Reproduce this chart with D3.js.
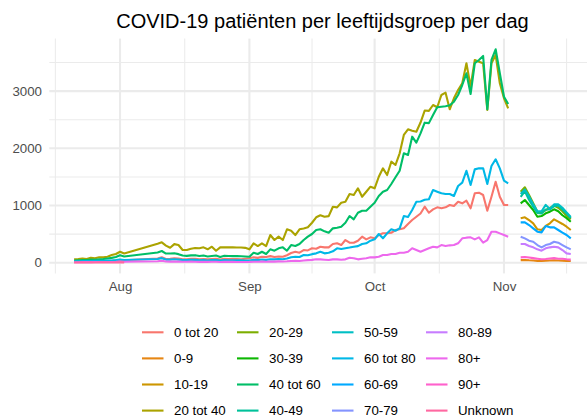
<!DOCTYPE html>
<html lang="nl">
<head>
<meta charset="utf-8">
<script src="https://d3js.org/d3.v7.min.js"></script>
<title>COVID-19 patiënten per leeftijdsgroep per dag</title>
<style>
  body { margin: 0; background: #fff; }
  svg text { font-family: "Liberation Sans", Arial, Helvetica, sans-serif; }
</style>
</head>
<body>
<div id="chart"></div>
<script>
// groups in legend / drawing order, with ggplot hue colours
const groups = ["0 tot 20", "0-9", "10-19", "20 tot 40", "20-29", "30-39", "40 tot 60", "40-49",
                "50-59", "60 tot 80", "60-69", "70-79", "80-89", "80+", "90+", "Unknown"];
const colors = ["#F8766D", "#E68613", "#CD9600", "#ABA300", "#7CAE00", "#0CB702", "#00BE67", "#00C19A",
                "#00BFC4", "#00B8E7", "#00A9FF", "#8494FF", "#C77CFF", "#ED68ED", "#FF61CC", "#FF68A1"];

// day ranges (end exclusive)
const early = [new Date(2020, 6, 21), new Date(2020, 7, 3)];   // 21 jul - 2 aug
const main = [new Date(2020, 7, 10), new Date(2020, 10, 3)];   // 10 aug - 2 nov
const late = [new Date(2020, 10, 5), new Date(2020, 10, 18)];  // 5 nov - 17 nov

// broad groups, 21 jul - 2 aug then 10 aug - 2 nov
const tot20 = [15, 15, 18, 20, 22, 20, 25, 28, 30, 35, 40, 45, 42,
  75, 94, 65, 70, 78, 72, 60, 62, 68, 70, 59, 65, 60, 66, 70, 55, 68, 66, 65, 64, 62, 70,
  77, 95, 85, 105, 100, 115, 100, 110, 105, 130, 170, 192, 175, 222, 215, 252, 245, 280, 269, 269,
  327, 339, 309, 397, 350, 350, 385, 455, 409, 444,
  427, 484, 514, 514, 524, 572, 584, 601, 677, 746, 804, 860, 979, 874, 933, 968, 951, 968, 1009, 991,
  1066, 1038, 1084, 951, 1213, 1224, 1184, 909, 1154, 1416, 1154,
  1009, 1009];
const tot40 = [60, 65, 75, 65, 87, 77, 94, 94, 105, 134, 152, 192, 163,
  330, 356, 300, 262, 325, 310, 222, 222, 245, 257, 252, 269, 235, 280, 210, 269, 268, 270, 268, 266, 266, 260,
  234, 339, 292, 339, 292, 484, 397, 455, 397, 584, 559, 484, 584, 600, 619, 699, 794, 830, 804, 814,
  979, 968, 1049, 1066, 1201, 1184, 1301, 1154, 1241, 1329,
  1301, 1503, 1650, 1533, 1766, 1708, 1913, 2233, 2332, 2308, 2290, 2450, 2660, 2655, 2757, 2717, 2932, 2972,
  2682, 2874, 3019, 3136, 3486, 3077, 3544, 3514, 3486, 2670, 3486, 3631, 3136,
  2874, 2699];
const tot60 = [40, 42, 45, 48, 55, 52, 60, 65, 75, 85, 100, 130, 110,
  180, 205, 160, 160, 165, 150, 125, 120, 128, 132, 117, 125, 110, 118, 125, 100, 120, 118, 115, 115, 112, 108,
  105, 175, 152, 192, 152, 234, 210, 252, 269, 210, 309, 292, 327, 397, 455, 502, 572, 585, 549, 524,
  601, 612, 629, 699, 816, 759, 874, 909, 909, 979,
  1049, 1166, 1241, 1271, 1376, 1493, 1608, 1913, 1883, 2203, 2098, 2262, 2448, 2440, 2582, 2717, 2727, 2735,
  2752, 2815, 2932, 3107, 3311, 2949, 3486, 3544, 3614, 2682, 3544, 3731, 3311,
  2903, 2774];
const tot80 = [25, 25, 28, 30, 30, 32, 35, 35, 38, 40, 45, 55, 48,
  65, 80, 55, 55, 60, 55, 48, 45, 50, 50, 42, 45, 40, 45, 48, 38, 45, 44, 43, 42, 42, 40,
  38, 50, 45, 55, 50, 62, 58, 65, 60, 75, 95, 105, 100, 135, 130, 150, 164, 192, 164, 175,
  200, 252, 240, 252, 265, 280, 290, 327, 340, 385,
  409, 502, 427, 514, 584, 559, 600, 816, 800, 921, 1066, 1070, 1100, 1110, 1271, 1242, 1213, 1201,
  1201, 1166, 1341, 1399, 1608, 1358, 1632, 1650, 1650, 1376, 1690, 1808, 1650,
  1434, 1388];
const plus80 = [8, 8, 10, 10, 10, 12, 12, 12, 14, 14, 15, 20, 18,
  25, 35, 22, 20, 22, 20, 18, 18, 20, 18, 15, 18, 15, 16, 18, 14, 16, 15, 15, 14, 14, 14,
  15, 18, 16, 20, 18, 22, 20, 24, 22, 25, 30, 32, 30, 40, 45, 50, 60, 59, 53, 47,
  59, 59, 53, 59, 87, 77, 59, 70, 77, 94,
  94, 105, 135, 135, 152, 152, 175, 175, 192, 252, 222, 192, 222, 252, 280, 269, 309, 292,
  304, 309, 339, 427, 438, 444, 409, 444, 350, 397, 542, 542, 513,
  484, 455];
// unknown, 21 jul - 2 aug only
const unknown = [5, 5, 6, 5, 6, 5, 6, 7, 6, 5, 6, 8, 6];

// ten-year groups, 5 nov - 17 nov
const age0_9 = [45, 48, 42, 38, 33, 30, 35, 40, 42, 38, 36, 32, 30];
const age10_19 = [776, 794, 746, 688, 584, 572, 642, 688, 759, 717, 677, 629, 572];
const age20_29 = [1240, 1318, 1184, 1038, 892, 874, 920, 960, 1000, 960, 900, 820, 760];
const age30_39 = [1038, 1096, 1009, 921, 804, 816, 864, 892, 934, 900, 830, 780, 717];
const age40_49 = [1150, 1250, 1100, 980, 870, 860, 930, 930, 990, 1000, 930, 860, 780];
const age50_59 = [1200, 1280, 1160, 1020, 900, 900, 1010, 940, 1020, 1020, 960, 880, 800];
const age60_69 = [706, 706, 659, 601, 543, 531, 642, 618, 618, 572, 525, 484, 426];
const age70_79 = [455, 426, 385, 367, 309, 269, 309, 327, 367, 350, 309, 269, 234];
const age80_89 = [327, 327, 292, 269, 234, 210, 252, 269, 280, 269, 222, 164, 152];
const age90p = [94, 100, 90, 80, 70, 60, 65, 75, 80, 70, 70, 60, 55];

const yTicks = [0, 1000, 2000, 3000];
const yMinor = [500, 1500, 2500, 3500];
const monthTicks = [new Date(2020, 7, 1), new Date(2020, 8, 1), new Date(2020, 9, 1), new Date(2020, 10, 1)];
const monthLabels = ["Aug", "Sep", "Oct", "Nov"];

const earlyDays = d3.timeDay.range(early[0], early[1]);
const mainDays = earlyDays.concat(d3.timeDay.range(main[0], main[1]));
const lateDays = d3.timeDay.range(late[0], late[1]);

const valuesByGroup = {
  "0 tot 20": [mainDays, tot20], "0-9": [lateDays, age0_9], "10-19": [lateDays, age10_19],
  "20 tot 40": [mainDays, tot40], "20-29": [lateDays, age20_29], "30-39": [lateDays, age30_39],
  "40 tot 60": [mainDays, tot60], "40-49": [lateDays, age40_49], "50-59": [lateDays, age50_59],
  "60 tot 80": [mainDays, tot80], "60-69": [lateDays, age60_69], "70-79": [lateDays, age70_79],
  "80-89": [lateDays, age80_89], "80+": [mainDays, plus80], "90+": [lateDays, age90p],
  "Unknown": [earlyDays, unknown]
};
const series = groups.map((g, i) => ({
  name: g,
  color: colors[i],
  points: valuesByGroup[g][0].map((d, j) => ({date: d, value: valuesByGroup[g][1][j]}))
}));

const width = 587, height = 420;
const panel = {left: 49.3, right: 595.6, top: 38.6, bottom: 273.4};

const svg = d3.select("#chart").append("svg")
  .attr("width", width)
  .attr("height", height);

// ggplot style 5% expansion on both scales
const allPts = series.flatMap(s => s.points);
const dExt = d3.extent(allPts, p => p.date);
const dPad = (dExt[1] - dExt[0]) * 0.05;
const x = d3.scaleTime()
  .domain([new Date(+dExt[0] - dPad), new Date(+dExt[1] + dPad)])
  .range([panel.left, panel.right]);
const vMax = d3.max(allPts, p => p.value);
const y = d3.scaleLinear()
  .domain([-vMax * 0.05, vMax * 1.05])
  .range([panel.bottom, panel.top]);

// grid
const minorX = monthTicks.map((d, i) => {
  const prev = i === 0 ? new Date(2020, 6, 1) : monthTicks[i - 1];
  return new Date((+prev + +d) / 2);
});
minorX.push(new Date((+monthTicks[3] + +new Date(2020, 11, 1)) / 2));

const grid = svg.append("g").attr("stroke", "#EBEBEB");
grid.selectAll(".ymin").data(yMinor).enter().append("line")
  .attr("x1", panel.left).attr("x2", panel.right)
  .attr("y1", d => y(d)).attr("y2", d => y(d))
  .attr("stroke-width", 1.05);
grid.selectAll(".xmin").data(minorX).enter().append("line")
  .attr("x1", d => x(d)).attr("x2", d => x(d))
  .attr("y1", panel.top).attr("y2", panel.bottom)
  .attr("stroke-width", 1.05);
grid.selectAll(".ymaj").data(yTicks).enter().append("line")
  .attr("x1", panel.left).attr("x2", panel.right)
  .attr("y1", d => y(d)).attr("y2", d => y(d))
  .attr("stroke-width", 2.1);
grid.selectAll(".xmaj").data(monthTicks).enter().append("line")
  .attr("x1", d => x(d)).attr("x2", d => x(d))
  .attr("y1", panel.top).attr("y2", panel.bottom)
  .attr("stroke-width", 2.1);

// axes
const xAxis = svg.append("g")
  .attr("transform", `translate(0,${panel.bottom})`)
  .call(d3.axisBottom(x).tickValues(monthTicks).tickFormat((d, i) => monthLabels[i]).tickSize(0).tickPadding(8.5));
const yAxis = svg.append("g")
  .attr("transform", `translate(${panel.left},0)`)
  .call(d3.axisLeft(y).tickValues(yTicks).tickFormat(d3.format("d")).tickSize(0).tickPadding(7.3));
[xAxis, yAxis].forEach(a => {
  a.select(".domain").remove();
  a.selectAll("text")
    .attr("fill", "#4D4D4D")
    .style("font-size", "13.3px")
    .style("font-family", "'Liberation Sans', Arial, sans-serif");
});

// lines
const line = d3.line()
  .x(p => x(p.date))
  .y(p => y(p.value));
svg.append("g").selectAll("path")
  .data(series)
  .enter()
  .append("path")
  .attr("d", s => line(s.points))
  .attr("fill", "none")
  .attr("stroke", s => s.color)
  .attr("stroke-width", 2.1)
  .attr("stroke-linejoin", "round");

// title
svg.append("text")
  .attr("x", (panel.left + panel.right) / 2)
  .attr("y", 28)
  .attr("text-anchor", "middle")
  .style("font-size", "20px")
  .attr("fill", "#000")
  .text("COVID-19 patiënten per leeftijdsgroep per dag");

// legend, 4 rows filled column by column
const colX = [142, 237, 332, 426];
const rowY = [332.3, 358.4, 384.5, 410.6];
const legend = svg.append("g").selectAll("g")
  .data(series)
  .enter()
  .append("g")
  .attr("transform", (s, i) => `translate(${colX[Math.floor(i / 4)]},${rowY[i % 4]})`);
legend.append("line")
  .attr("x1", 0).attr("x2", 21.5)
  .attr("y1", 0).attr("y2", 0)
  .attr("stroke", s => s.color)
  .attr("stroke-width", 2.1);
legend.append("text")
  .attr("x", 32)
  .attr("y", 0)
  .attr("dy", "0.35em")
  .style("font-size", "13.3px")
  .attr("fill", "#000")
  .text(s => s.name);
</script>
</body>
</html>
